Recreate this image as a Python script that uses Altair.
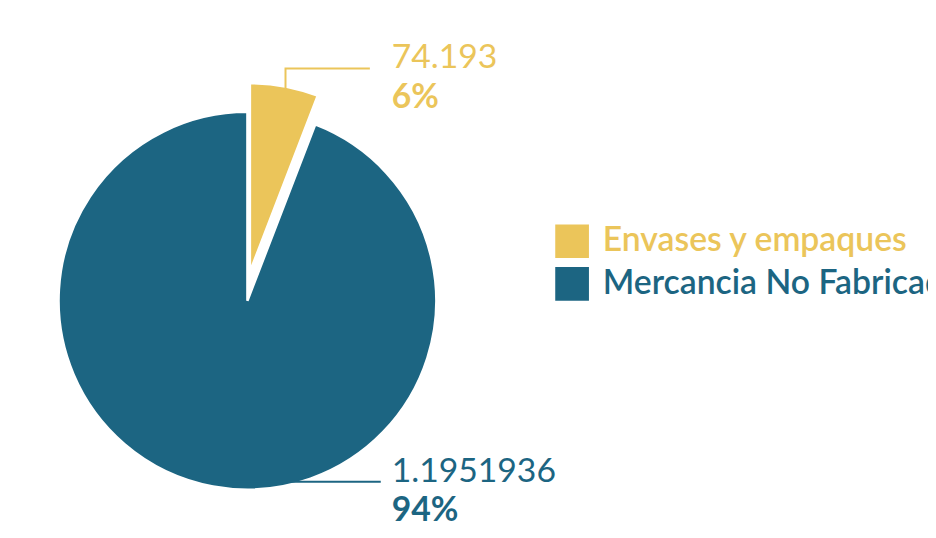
import math
import altair as alt
import pandas as pd

# ---- data ----
categories = ["Envases y empaques", "Mercancia No Fabricada"]
values = [74.193, 1195.1936]
value_labels = ["74.193", "1.1951936"]
colors = ["#EBC55A", "#1C6582"]
exploded = [True, False]

# ---- geometry (layout only) ----
W, H = 928, 522
CX, CY = 241.5, 293
R = 190.5
EXPLODE_DX, EXPLODE_DY = 2.5, -29
TEXT_X = 387
FS = 34

total = sum(values)
arc_rows, line_rows, text_rows = [], [], []
acc = 0.0
for cat, v, vl, ex in zip(categories, values, value_labels, exploded):
    a0 = acc / total * 2 * math.pi
    acc += v
    a1 = acc / total * 2 * math.pi
    mid = (a0 + a1) / 2
    cx = CX + (EXPLODE_DX if ex else 0)
    cy = CY + (EXPLODE_DY if ex else 0)
    arc_rows.append(dict(category=cat, value=v, start=a0, end=a1, cx=cx, cy=cy))
    if cy - math.cos(mid) * R < CY:
        ax = cx + (R - 2) * math.sin(mid) + 1.5
        ay = cy - (R - 2) * math.cos(mid)
        ly = ay - 20
        end_x = 365
    else:
        ax = cx + 0.97 * R * math.sin(mid)
        ay = cy - 0.97 * R * math.cos(mid) + 1
        ly = ay
        end_x = 376
    pts = [(ax, ay), (ax, ly), (end_x, ly)]
    for i, (px, py) in enumerate(pts):
        line_rows.append(dict(category=cat, seq=i, px=px, py=py))
    pct = round(v / total * 100)
    text_rows.append(dict(category=cat, vlabel=vl, plabel=f"{pct}%",
                          tx=TEXT_X, ty=ly, ty2=ly + 39.5))

arcs = pd.DataFrame(arc_rows)
lines = pd.DataFrame(line_rows)
texts = pd.DataFrame(text_rows)

color_scale = alt.Scale(domain=categories, range=colors)

pie = alt.Chart(arcs).mark_arc(radius=R, stroke="white", strokeWidth=2.5).encode(
    theta=alt.Theta("start:Q", scale=None),
    theta2="end:Q",
    x=alt.X("cx:Q", scale=None),
    y=alt.Y("cy:Q", scale=None),
    color=alt.Color(
        "category:N",
        scale=color_scale,
        sort=categories,
        legend=alt.Legend(
            title=None,
            orient="none",
            legendX=552,
            legendY=216,
            symbolType="square",
            symbolSize=1156,
            symbolStrokeWidth=0,
            labelFont="Lato",
            labelFontSize=FS,
            labelFontWeight=600,
            labelOffset=14,
            labelLimit=2000,
            rowPadding=9,
            labelColor=alt.ExprRef(
                f"datum.label == '{categories[0]}' ? '{colors[0]}' : '{colors[1]}'"
            ),
        ),
    ),
)

leaders = alt.Chart(lines).mark_line(strokeWidth=2).encode(
    x=alt.X("px:Q", scale=None),
    y=alt.Y("py:Q", scale=None),
    detail="category:N",
    order="seq:Q",
    color=alt.Color("category:N", scale=color_scale, legend=None),
)

val_text = alt.Chart(texts).mark_text(
    align="left", baseline="alphabetic", font="Lato", fontSize=FS
).encode(
    x=alt.X("tx:Q", scale=None),
    y=alt.Y("ty:Q", scale=None),
    text="vlabel:N",
    color=alt.Color("category:N", scale=color_scale, legend=None),
)

pct_text = alt.Chart(texts).mark_text(
    align="left", baseline="alphabetic", font="Lato", fontSize=FS, fontWeight="bold"
).encode(
    x=alt.X("tx:Q", scale=None),
    y=alt.Y("ty2:Q", scale=None),
    text="plabel:N",
    color=alt.Color("category:N", scale=color_scale, legend=None),
)

chart = alt.layer(pie, leaders, val_text, pct_text).properties(
    width=W, height=H, padding=0, autosize=alt.AutoSizeParams(type="none")
).configure_view(stroke=None)

chart.save("out.html", embed_options={"renderer": "svg", "actions": False})
